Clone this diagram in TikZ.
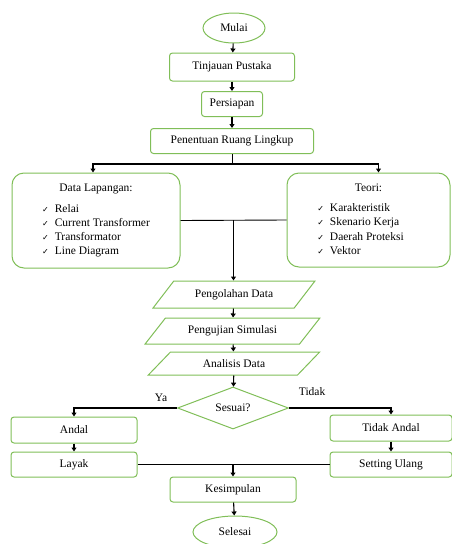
\documentclass[tikz,border=0pt]{standalone}
\usepackage{fontspec}
\setmainfont{Liberation Serif}
\newfontfamily\symfont{DejaVu Sans}
\usepackage{xcolor}
\usetikzlibrary{arrows.meta,positioning,shapes.geometric,calc}
\definecolor{boxgreen}{RGB}{128,190,88}
\newcommand{\ck}{{\symfont\footnotesize ✓}}

\begin{document}
\begin{tikzpicture}[
  x=1pt, y=-1pt,
  font=\fontsize{11.5}{14.3}\selectfont,
  box/.style={draw=boxgreen, line width=1pt, rounded corners=3pt, align=center, inner sep=2pt},
  bigbox/.style={draw=boxgreen, line width=1pt, rounded corners=12pt, inner sep=2pt},
  term/.style={draw=boxgreen, line width=1pt, ellipse, inner sep=1pt},
  io/.style={draw=boxgreen, line width=1pt, trapezium, trapezium left angle=42, trapezium right angle=138,
    trapezium stretches=true, inner sep=1pt},
  cond/.style={draw=boxgreen, line width=1pt, diamond, aspect=2.6, inner sep=0pt},
  arr/.style={-{Triangle[length=4pt,width=5pt]}, line width=1.1pt},
  ln/.style={line width=0.9pt}
]
\useasboundingbox (0,0) rectangle (451,544);

\node[term, minimum width=62pt, minimum height=30pt] (mulai) at (234,28) {Mulai};
\node[box, minimum width=125pt, minimum height=28pt] (tinjau) at (232,67) {Tinjauan Pustaka};
\node[box, minimum width=61pt, minimum height=25pt] (siap) at (232,104) {Persiapan};
\node[box, minimum width=163pt, minimum height=25pt] (lingkup) at (232,141) {Penentuan Ruang Lingkup};

\node[bigbox, minimum width=168pt, minimum height=95pt] (lapangan) at (96,220.5)
  {\begin{tabular}{@{}l@{\hspace{6pt}}l@{}}
    \multicolumn{2}{c}{Data Lapangan:}\\[6pt]
    \ck & Relai\\
    \ck & Current Transformer\\
    \ck & Transformator\\
    \ck & Line Diagram
  \end{tabular}};
\node[bigbox, minimum width=163pt, minimum height=94pt] (teori) at (368.5,220)
  {\begin{tabular}{@{}l@{\hspace{6pt}}l@{\hspace{16pt}}}
    \multicolumn{2}{c}{Teori:}\\[6pt]
    \ck & Karakteristik\\
    \ck & Skenario Kerja\\
    \ck & Daerah Proteksi\\
    \ck & Vektor
  \end{tabular}};

\node[io, minimum width=162pt, minimum height=27pt] (olah) at (234,294.5) {Pengolahan Data};
\node[io, minimum width=175pt, minimum height=26pt] (uji) at (232.5,331) {Pengujian Simulasi};
\node[io, minimum width=172pt, minimum height=23pt] (analisis) at (234,363.5) {Analisis Data};
\node[cond, minimum width=111pt, minimum height=42pt] (sesuai) at (233,408) {Sesuai?};

\node[box, minimum width=126pt, minimum height=26pt] (andal) at (74,430) {Andal};
\node[box, minimum width=126pt, minimum height=25pt] (layak) at (74,464.5) {Layak};
\node[box, minimum width=122pt, minimum height=26pt] (tdkandal) at (391,428) {Tidak Andal};
\node[box, minimum width=122pt, minimum height=25pt] (ulang) at (391,464.5) {Setting Ulang};
\node[box, minimum width=126pt, minimum height=25pt] (simpul) at (233,489.5) {Kesimpulan};
\node[term, minimum width=84pt, minimum height=32pt] (selesai) at (235,532) {Selesai};

% alur utama
\draw[arr] (mulai) -- (tinjau);
\draw[arr] (tinjau) -- (siap);
\draw[arr] (siap) -- (lingkup);
\draw[ln] (lingkup.south) -- ++(0,10) coordinate (cabang);
\draw[arr] (cabang) -| ([xshift=-3pt]lapangan.north);
\draw[arr] (cabang) -| ([xshift=10pt]teori.north);
\draw[ln] (lapangan.east) -- (teori.west);
\coordinate (gabung) at ($(lapangan.east)!0.5!(teori.west)$);
\draw[arr] (gabung) -- (gabung |- olah.north);
\draw[arr] (olah) -- (uji);
\draw[arr] (uji) -- (analisis);
\draw[arr] (analisis) -- (sesuai);

% keputusan
\draw[arr] (sesuai.west) -| (andal.north)
  node[pos=0, anchor=south east, xshift=-6pt, yshift=3pt] (ya) {Ya};
\draw[arr] (sesuai.east) -| (tdkandal.north)
  node[pos=0, anchor=south west, xshift=6pt, yshift=9pt] (tidak) {Tidak};
\draw[arr] (andal) -- (layak);
\draw[arr] (tdkandal) -- (ulang);
\draw[ln] (layak.east) -- (ulang.west);
\coordinate (temu) at (simpul.north |- layak.east);
\draw[arr] (temu) -- (simpul.north);
\draw[arr] (simpul) -- (selesai);
\end{tikzpicture}
\end{document}
